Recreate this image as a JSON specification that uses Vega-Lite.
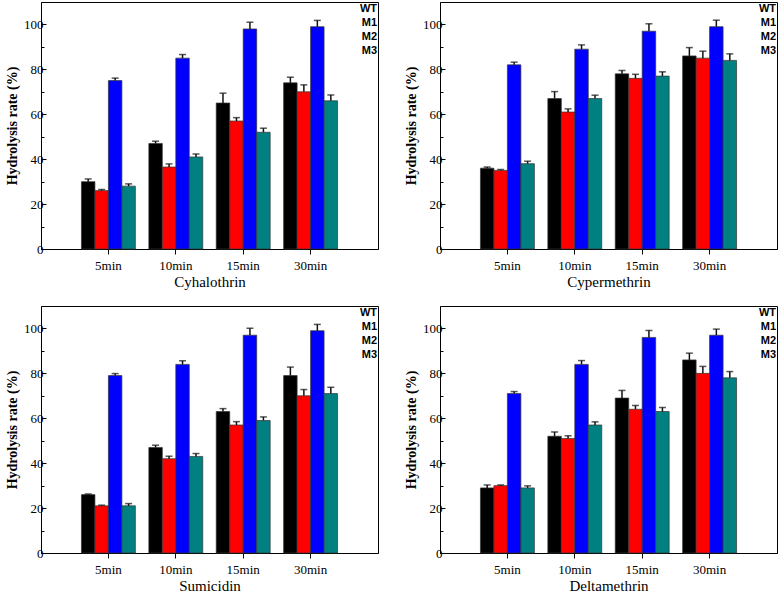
{
  "$schema": "https://vega.github.io/schema/vega-lite/v6.json",
  "padding": {"left": 5, "top": 1, "right": 1, "bottom": 0},
  "columns": 2,
  "spacing": {"row": 15, "column": 25},
  "datasets": {
    "d": [
      {"p": "Cyhalothrin", "t": "5min", "s": "WT", "v": 30, "top": 31.2},
      {"p": "Cyhalothrin", "t": "5min", "s": "M1", "v": 26, "top": 26.5},
      {"p": "Cyhalothrin", "t": "5min", "s": "M2", "v": 75, "top": 76.1},
      {"p": "Cyhalothrin", "t": "5min", "s": "M3", "v": 28, "top": 29},
      {"p": "Cyhalothrin", "t": "10min", "s": "WT", "v": 47, "top": 48},
      {"p": "Cyhalothrin", "t": "10min", "s": "M1", "v": 36.5, "top": 37.9},
      {"p": "Cyhalothrin", "t": "10min", "s": "M2", "v": 85, "top": 86.6},
      {"p": "Cyhalothrin", "t": "10min", "s": "M3", "v": 41, "top": 42.3},
      {"p": "Cyhalothrin", "t": "15min", "s": "WT", "v": 65, "top": 69.4},
      {"p": "Cyhalothrin", "t": "15min", "s": "M1", "v": 57, "top": 58.5},
      {"p": "Cyhalothrin", "t": "15min", "s": "M2", "v": 98, "top": 101},
      {"p": "Cyhalothrin", "t": "15min", "s": "M3", "v": 52, "top": 53.8},
      {"p": "Cyhalothrin", "t": "30min", "s": "WT", "v": 74, "top": 76.5},
      {"p": "Cyhalothrin", "t": "30min", "s": "M1", "v": 70, "top": 73.1},
      {"p": "Cyhalothrin", "t": "30min", "s": "M2", "v": 99, "top": 101.8},
      {"p": "Cyhalothrin", "t": "30min", "s": "M3", "v": 66, "top": 68.6},

      {"p": "Cypermethrin", "t": "5min", "s": "WT", "v": 36, "top": 36.5},
      {"p": "Cypermethrin", "t": "5min", "s": "M1", "v": 35, "top": 35.4},
      {"p": "Cypermethrin", "t": "5min", "s": "M2", "v": 82, "top": 83.2},
      {"p": "Cypermethrin", "t": "5min", "s": "M3", "v": 38, "top": 39.1},
      {"p": "Cypermethrin", "t": "10min", "s": "WT", "v": 67, "top": 70.1},
      {"p": "Cypermethrin", "t": "10min", "s": "M1", "v": 61, "top": 62.4},
      {"p": "Cypermethrin", "t": "10min", "s": "M2", "v": 89, "top": 90.9},
      {"p": "Cypermethrin", "t": "10min", "s": "M3", "v": 67, "top": 68.5},
      {"p": "Cypermethrin", "t": "15min", "s": "WT", "v": 78, "top": 79.5},
      {"p": "Cypermethrin", "t": "15min", "s": "M1", "v": 76, "top": 77.8},
      {"p": "Cypermethrin", "t": "15min", "s": "M2", "v": 97, "top": 100.3},
      {"p": "Cypermethrin", "t": "15min", "s": "M3", "v": 77, "top": 78.9},
      {"p": "Cypermethrin", "t": "30min", "s": "WT", "v": 86, "top": 89.7},
      {"p": "Cypermethrin", "t": "30min", "s": "M1", "v": 85, "top": 88.1},
      {"p": "Cypermethrin", "t": "30min", "s": "M2", "v": 99, "top": 101.9},
      {"p": "Cypermethrin", "t": "30min", "s": "M3", "v": 84, "top": 86.9},

      {"p": "Sumicidin", "t": "5min", "s": "WT", "v": 26, "top": 26.3},
      {"p": "Sumicidin", "t": "5min", "s": "M1", "v": 21, "top": 21.3},
      {"p": "Sumicidin", "t": "5min", "s": "M2", "v": 79, "top": 79.9},
      {"p": "Sumicidin", "t": "5min", "s": "M3", "v": 21, "top": 22},
      {"p": "Sumicidin", "t": "10min", "s": "WT", "v": 47, "top": 48},
      {"p": "Sumicidin", "t": "10min", "s": "M1", "v": 42, "top": 43.1},
      {"p": "Sumicidin", "t": "10min", "s": "M2", "v": 84, "top": 85.6},
      {"p": "Sumicidin", "t": "10min", "s": "M3", "v": 43, "top": 44.3},
      {"p": "Sumicidin", "t": "15min", "s": "WT", "v": 63, "top": 64.3},
      {"p": "Sumicidin", "t": "15min", "s": "M1", "v": 57, "top": 58.5},
      {"p": "Sumicidin", "t": "15min", "s": "M2", "v": 97, "top": 100.1},
      {"p": "Sumicidin", "t": "15min", "s": "M3", "v": 59, "top": 60.6},
      {"p": "Sumicidin", "t": "30min", "s": "WT", "v": 79, "top": 82.8},
      {"p": "Sumicidin", "t": "30min", "s": "M1", "v": 70, "top": 72.8},
      {"p": "Sumicidin", "t": "30min", "s": "M2", "v": 99, "top": 101.8},
      {"p": "Sumicidin", "t": "30min", "s": "M3", "v": 71, "top": 73.8},

      {"p": "Deltamethrin", "t": "5min", "s": "WT", "v": 29, "top": 30.3},
      {"p": "Deltamethrin", "t": "5min", "s": "M1", "v": 30, "top": 30.3},
      {"p": "Deltamethrin", "t": "5min", "s": "M2", "v": 71, "top": 71.9},
      {"p": "Deltamethrin", "t": "5min", "s": "M3", "v": 29, "top": 29.9},
      {"p": "Deltamethrin", "t": "10min", "s": "WT", "v": 52, "top": 53.9},
      {"p": "Deltamethrin", "t": "10min", "s": "M1", "v": 51, "top": 52.2},
      {"p": "Deltamethrin", "t": "10min", "s": "M2", "v": 84, "top": 85.7},
      {"p": "Deltamethrin", "t": "10min", "s": "M3", "v": 57, "top": 58.4},
      {"p": "Deltamethrin", "t": "15min", "s": "WT", "v": 69, "top": 72.4},
      {"p": "Deltamethrin", "t": "15min", "s": "M1", "v": 64, "top": 65.7},
      {"p": "Deltamethrin", "t": "15min", "s": "M2", "v": 96, "top": 99.1},
      {"p": "Deltamethrin", "t": "15min", "s": "M3", "v": 63, "top": 64.8},
      {"p": "Deltamethrin", "t": "30min", "s": "WT", "v": 86, "top": 89},
      {"p": "Deltamethrin", "t": "30min", "s": "M1", "v": 80, "top": 83.1},
      {"p": "Deltamethrin", "t": "30min", "s": "M2", "v": 97, "top": 99.7},
      {"p": "Deltamethrin", "t": "30min", "s": "M3", "v": 78, "top": 80.8}
    ]
  },
  "concat": [
    {
      "width": 337, "height": 247,
      "data": {"name": "d"},
      "transform": [{"filter": "datum.p === 'Cyhalothrin'"}],
      "encoding": {
        "x": {"field": "t", "type": "nominal", "sort": ["5min", "10min", "15min", "30min"], "title": "Cyhalothrin", "scale": {"paddingInner": 0.2, "paddingOuter": 0.6}},
        "xOffset": {"field": "s", "type": "nominal", "sort": ["WT", "M1", "M2", "M3"]}
      },
      "layer": [
        {"mark": {"type": "bar", "stroke": "#333333", "strokeWidth": 0.7},
         "encoding": {
           "y": {"field": "v", "type": "quantitative", "scale": {"domain": [0, 110]}, "title": "Hydrolysis rate (%)", "axis": {"orient": "left"}},
           "color": {"field": "s", "type": "nominal", "sort": ["WT", "M1", "M2", "M3"], "scale": {"domain": ["WT", "M1", "M2", "M3"], "range": ["#000000", "#ff0000", "#0000ff", "#008080"]},
             "legend": {"encode": {"labels": {"fill": {"value": {"expr": "datum.value === 'WT' ? '#000000' : datum.value === 'M1' ? '#ff0000' : datum.value === 'M2' ? '#0000ff' : '#008080'"}}}}}}
         }},
        {"mark": {"type": "rule", "color": "#111111", "strokeWidth": 1.5},
         "encoding": {"y": {"field": "v", "type": "quantitative", "axis": {"orient": "left", "values": [10, 30, 50, 70, 90], "labels": false, "domain": false, "title": null, "tickSize": -3}}, "y2": {"field": "top"}}},
        {"mark": {"type": "tick", "color": "#111111", "orient": "horizontal", "size": 7, "thickness": 1.5},
         "encoding": {"y": {"field": "top", "type": "quantitative", "axis": null}}}
      ],
      "resolve": {"axis": {"y": "independent"}}
    },
    {
      "width": 337, "height": 247,
      "data": {"name": "d"},
      "transform": [{"filter": "datum.p === 'Cypermethrin'"}],
      "encoding": {
        "x": {"field": "t", "type": "nominal", "sort": ["5min", "10min", "15min", "30min"], "title": "Cypermethrin", "scale": {"paddingInner": 0.2, "paddingOuter": 0.6}},
        "xOffset": {"field": "s", "type": "nominal", "sort": ["WT", "M1", "M2", "M3"]}
      },
      "layer": [
        {"mark": {"type": "bar", "stroke": "#333333", "strokeWidth": 0.7},
         "encoding": {
           "y": {"field": "v", "type": "quantitative", "scale": {"domain": [0, 110]}, "title": "Hydrolysis rate (%)", "axis": {"orient": "left"}},
           "color": {"field": "s", "type": "nominal", "sort": ["WT", "M1", "M2", "M3"], "scale": {"domain": ["WT", "M1", "M2", "M3"], "range": ["#000000", "#ff0000", "#0000ff", "#008080"]},
             "legend": {"encode": {"labels": {"fill": {"value": {"expr": "datum.value === 'WT' ? '#000000' : datum.value === 'M1' ? '#ff0000' : datum.value === 'M2' ? '#0000ff' : '#008080'"}}}}}}
         }},
        {"mark": {"type": "rule", "color": "#111111", "strokeWidth": 1.5},
         "encoding": {"y": {"field": "v", "type": "quantitative", "axis": {"orient": "left", "values": [10, 30, 50, 70, 90], "labels": false, "domain": false, "title": null, "tickSize": -3}}, "y2": {"field": "top"}}},
        {"mark": {"type": "tick", "color": "#111111", "orient": "horizontal", "size": 7, "thickness": 1.5},
         "encoding": {"y": {"field": "top", "type": "quantitative", "axis": null}}}
      ],
      "resolve": {"axis": {"y": "independent"}}
    },
    {
      "width": 337, "height": 247,
      "data": {"name": "d"},
      "transform": [{"filter": "datum.p === 'Sumicidin'"}],
      "encoding": {
        "x": {"field": "t", "type": "nominal", "sort": ["5min", "10min", "15min", "30min"], "title": "Sumicidin", "scale": {"paddingInner": 0.2, "paddingOuter": 0.6}},
        "xOffset": {"field": "s", "type": "nominal", "sort": ["WT", "M1", "M2", "M3"]}
      },
      "layer": [
        {"mark": {"type": "bar", "stroke": "#333333", "strokeWidth": 0.7},
         "encoding": {
           "y": {"field": "v", "type": "quantitative", "scale": {"domain": [0, 110]}, "title": "Hydrolysis rate (%)", "axis": {"orient": "left"}},
           "color": {"field": "s", "type": "nominal", "sort": ["WT", "M1", "M2", "M3"], "scale": {"domain": ["WT", "M1", "M2", "M3"], "range": ["#000000", "#ff0000", "#0000ff", "#008080"]},
             "legend": {"encode": {"labels": {"fill": {"value": {"expr": "datum.value === 'WT' ? '#000000' : datum.value === 'M1' ? '#ff0000' : datum.value === 'M2' ? '#0000ff' : '#008080'"}}}}}}
         }},
        {"mark": {"type": "rule", "color": "#111111", "strokeWidth": 1.5},
         "encoding": {"y": {"field": "v", "type": "quantitative", "axis": {"orient": "left", "values": [10, 30, 50, 70, 90], "labels": false, "domain": false, "title": null, "tickSize": -3}}, "y2": {"field": "top"}}},
        {"mark": {"type": "tick", "color": "#111111", "orient": "horizontal", "size": 7, "thickness": 1.5},
         "encoding": {"y": {"field": "top", "type": "quantitative", "axis": null}}}
      ],
      "resolve": {"axis": {"y": "independent"}}
    },
    {
      "width": 337, "height": 247,
      "data": {"name": "d"},
      "transform": [{"filter": "datum.p === 'Deltamethrin'"}],
      "encoding": {
        "x": {"field": "t", "type": "nominal", "sort": ["5min", "10min", "15min", "30min"], "title": "Deltamethrin", "scale": {"paddingInner": 0.2, "paddingOuter": 0.6}},
        "xOffset": {"field": "s", "type": "nominal", "sort": ["WT", "M1", "M2", "M3"]}
      },
      "layer": [
        {"mark": {"type": "bar", "stroke": "#333333", "strokeWidth": 0.7},
         "encoding": {
           "y": {"field": "v", "type": "quantitative", "scale": {"domain": [0, 110]}, "title": "Hydrolysis rate (%)", "axis": {"orient": "left"}},
           "color": {"field": "s", "type": "nominal", "sort": ["WT", "M1", "M2", "M3"], "scale": {"domain": ["WT", "M1", "M2", "M3"], "range": ["#000000", "#ff0000", "#0000ff", "#008080"]},
             "legend": {"encode": {"labels": {"fill": {"value": {"expr": "datum.value === 'WT' ? '#000000' : datum.value === 'M1' ? '#ff0000' : datum.value === 'M2' ? '#0000ff' : '#008080'"}}}}}}
         }},
        {"mark": {"type": "rule", "color": "#111111", "strokeWidth": 1.5},
         "encoding": {"y": {"field": "v", "type": "quantitative", "axis": {"orient": "left", "values": [10, 30, 50, 70, 90], "labels": false, "domain": false, "title": null, "tickSize": -3}}, "y2": {"field": "top"}}},
        {"mark": {"type": "tick", "color": "#111111", "orient": "horizontal", "size": 7, "thickness": 1.5},
         "encoding": {"y": {"field": "top", "type": "quantitative", "axis": null}}}
      ],
      "resolve": {"axis": {"y": "independent"}}
    }
  ],
  "resolve": {"legend": {"color": "independent"}, "scale": {"x": "independent", "y": "independent"}, "axis": {"x": "independent", "y": "independent"}},
  "config": {
    "view": {"stroke": "#000000", "strokeWidth": 1},
    "axis": {
      "grid": false,
      "domainColor": "#000000",
      "tickColor": "#000000",
      "labelColor": "#000000",
      "titleColor": "#000000",
      "labelFont": "Liberation Serif",
      "titleFont": "Liberation Serif",
      "labelFontSize": 13,
      "domainWidth": 1
    },
    "axisX": {"labelAngle": 0, "tickSize": 5, "labelPadding": 5, "titleFontSize": 15, "titleFontWeight": "normal", "titlePadding": 2},
    "axisY": {"values": [0, 20, 40, 60, 80, 100], "tickSize": -5, "labelPadding": 3, "titleFontSize": 14, "titleFontWeight": "bold", "titlePadding": 4},
    "legend": {
      "orient": "top-right",
      "offset": 1,
      "padding": 0,
      "title": null,
      "symbolSize": 0,
      "symbolOpacity": 0,
      "symbolStrokeWidth": 0,
      "labelOffset": 0,
      "labelAlign": "right",
      "labelFont": "Liberation Sans",
      "labelFontSize": 11,
      "labelFontWeight": "bold",
      "rowPadding": 2
    }
  }
}
